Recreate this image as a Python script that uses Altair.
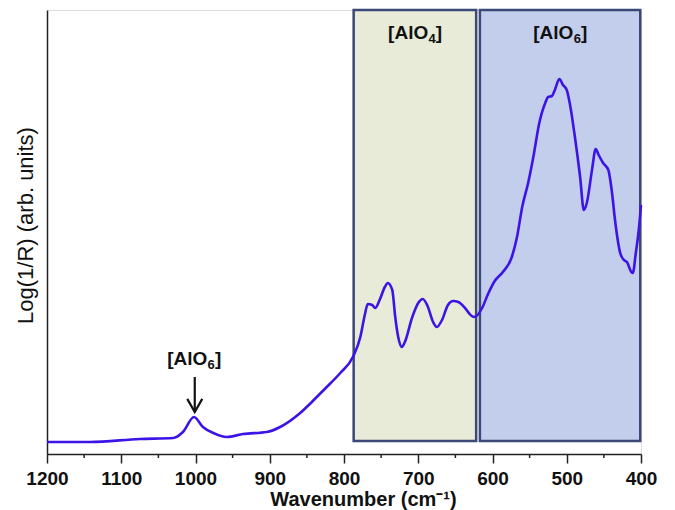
import altair as alt
import pandas as pd

# Spectrum (wavenumber in cm^-1, Log(1/R) in arbitrary units)
wavenumber = [
    1200, 1142, 1075, 1030, 1017, 1002, 990, 976, 958, 936,
    904, 886, 859, 842, 826, 805, 788, 778, 772, 768,
    762, 758, 752, 745, 741, 735, 731, 727, 722, 718,
    708, 700, 694, 688, 680, 675, 668, 660, 653, 646,
    637, 628, 624, 614, 606, 597, 586, 574, 567, 560,
    552, 545, 537, 529, 525, 520, 516, 510, 505, 500,
    496, 489, 482, 477, 473, 466, 461, 457, 451, 444,
    439, 435, 428, 423, 419, 413, 411, 407, 403, 400,
]
log_inv_r = [
    0.12, 0.12, 0.15, 0.16, 0.22, 0.37, 0.27, 0.21, 0.17, 0.20,
    0.22, 0.27, 0.41, 0.53, 0.65, 0.81, 0.97, 1.17, 1.39, 1.50,
    1.49, 1.46, 1.54, 1.67, 1.71, 1.64, 1.37, 1.17, 1.07, 1.12,
    1.37, 1.51, 1.55, 1.49, 1.32, 1.27, 1.34, 1.49, 1.53, 1.52,
    1.46, 1.38, 1.37, 1.46, 1.60, 1.73, 1.82, 1.97, 2.17, 2.47,
    2.71, 2.97, 3.31, 3.51, 3.57, 3.58, 3.64, 3.75, 3.69, 3.64,
    3.51, 3.17, 2.77, 2.44, 2.51, 2.84, 3.05, 2.99, 2.91, 2.84,
    2.61, 2.34, 2.01, 1.94, 1.92, 1.82, 1.81, 2.01, 2.24, 2.49,
]

# Shaded regions
box_start = [787, 617]
box_end = [622, 401]
box_top = [4.44, 4.44]
box_bottom = [0.13, 0.13]
box_fill = ["#e7ebd7", "#c3cdec"]
box_sub = ["4", "6"]
box_label_y = [4.15, 4.15]

# Peak annotation
peak_wn = [1002]
peak_sub = ["6"]
peak_label_y = [0.895]
arrow_wn = [1001]
arrow_top = [0.77]
arrow_tip = [0.42]

x_ticks = [1200, 1100, 1000, 900, 800, 700, 600, 500, 400]
minor_ticks = [1150, 1050, 950, 850, 750, 650, 550, 450]

W, H = 594, 444
FONT = "Liberation Sans"
LINE_COLOR = "#3c14e6"
BOX_STROKE = "#3b4878"

spec = pd.DataFrame({"wn": wavenumber, "v": log_inv_r})
boxes = pd.DataFrame({
    "start": box_start, "end": box_end, "top": box_top, "bottom": box_bottom,
    "fill": box_fill, "sub": box_sub, "ly": box_label_y,
    "center": [(a + b) / 2 for a, b in zip(box_start, box_end)],
})
peak = pd.DataFrame({"wn": peak_wn, "sub": peak_sub, "ly": peak_label_y})
arrow = pd.DataFrame({"wn": arrow_wn, "top": arrow_top, "tip": arrow_tip})
minor = pd.DataFrame({"wn": minor_ticks})

xs = alt.Scale(domain=[400, 1200], reverse=True, nice=False, zero=False)
ys = alt.Scale(domain=[0, 4.44], nice=False, zero=False)

x_axis = alt.Axis(
    values=x_ticks, format="d", tickSize=9, tickColor="#222", tickWidth=1.5,
    domainColor="#222", domainWidth=1.5, grid=False,
    labelFont=FONT, labelFontSize=19, labelFontWeight="bold", labelColor="#111",
    labelPadding=6, labelFlush=False,
    title="Wavenumber (cm⁻¹)", titleFont=FONT, titleFontSize=20,
    titleFontWeight="bold", titleColor="#111",
    titleX=316, titleY=51, titleAlign="center", titleBaseline="alphabetic",
)
y_axis = alt.Axis(
    ticks=False, labels=False, grid=False, domainColor="#222", domainWidth=1.5,
    title="Log(1/R) (arb. units)", titleFont=FONT, titleFontSize=22,
    titleFontWeight="normal", titleColor="#111", titlePadding=10,
    titleY=215, titleAlign="center",
)

rects = alt.Chart(boxes).mark_rect(stroke=BOX_STROKE, strokeWidth=2.5).encode(
    x=alt.X("start:Q", scale=xs, axis=x_axis),
    x2="end:Q",
    y=alt.Y("top:Q", scale=ys, axis=y_axis),
    y2="bottom:Q",
    fill=alt.Fill("fill:N", scale=None),
)

line = alt.Chart(spec).mark_line(
    color=LINE_COLOR, strokeWidth=2.6, interpolate="monotone"
).encode(
    x=alt.X("wn:Q", scale=xs),
    y=alt.Y("v:Q", scale=ys),
)

def label_layers(df, xfield):
    base = alt.Chart(df).encode(x=alt.X(f"{xfield}:Q", scale=xs), y=alt.Y("ly:Q", scale=ys))
    main = base.mark_text(font=FONT, fontSize=19, fontWeight="bold", align="left",
                          baseline="alphabetic", dx=-26.8, color="#111").encode(text=alt.value("[AlO"))
    sub = base.mark_text(font=FONT, fontSize=13, fontWeight="bold", align="left",
                         baseline="alphabetic", dx=13.6, dy=4, color="#111").encode(text="sub:N")
    close = base.mark_text(font=FONT, fontSize=19, fontWeight="bold", align="left",
                           baseline="alphabetic", dx=20.9, color="#111").encode(text=alt.value("]"))
    return [main, sub, close]

box_labels = label_layers(boxes, "center")
peak_labels = label_layers(peak, "wn")

shaft = alt.Chart(arrow).mark_rule(color="#111", strokeWidth=2.2).encode(
    x=alt.X("wn:Q", scale=xs), y=alt.Y("top:Q", scale=ys), y2="tip:Q"
)
head = alt.Chart(arrow).mark_point(
    shape="M-1,-1.75L0,0L1,-1.75", size=225, filled=False, stroke="#111",
    strokeWidth=2.2, opacity=1,
).encode(x=alt.X("wn:Q", scale=xs), y=alt.Y("tip:Q", scale=ys))

minor_rules = alt.Chart(minor).mark_rule(color="#222", strokeWidth=1.5).encode(
    x=alt.X("wn:Q", scale=xs), y=alt.value(H), y2=alt.value(H + 4)
)

chart = alt.layer(
    rects, line, *box_labels, *peak_labels, shaft, head, minor_rules
).properties(
    width=W, height=H,
    autosize=alt.AutoSizeParams(type="none"),
    padding={"left": 39, "top": 2, "right": 20, "bottom": 56},
).configure_view(stroke=None).configure(background="white")

chart.save("out.html", embed_options={"renderer": "svg", "actions": False})
